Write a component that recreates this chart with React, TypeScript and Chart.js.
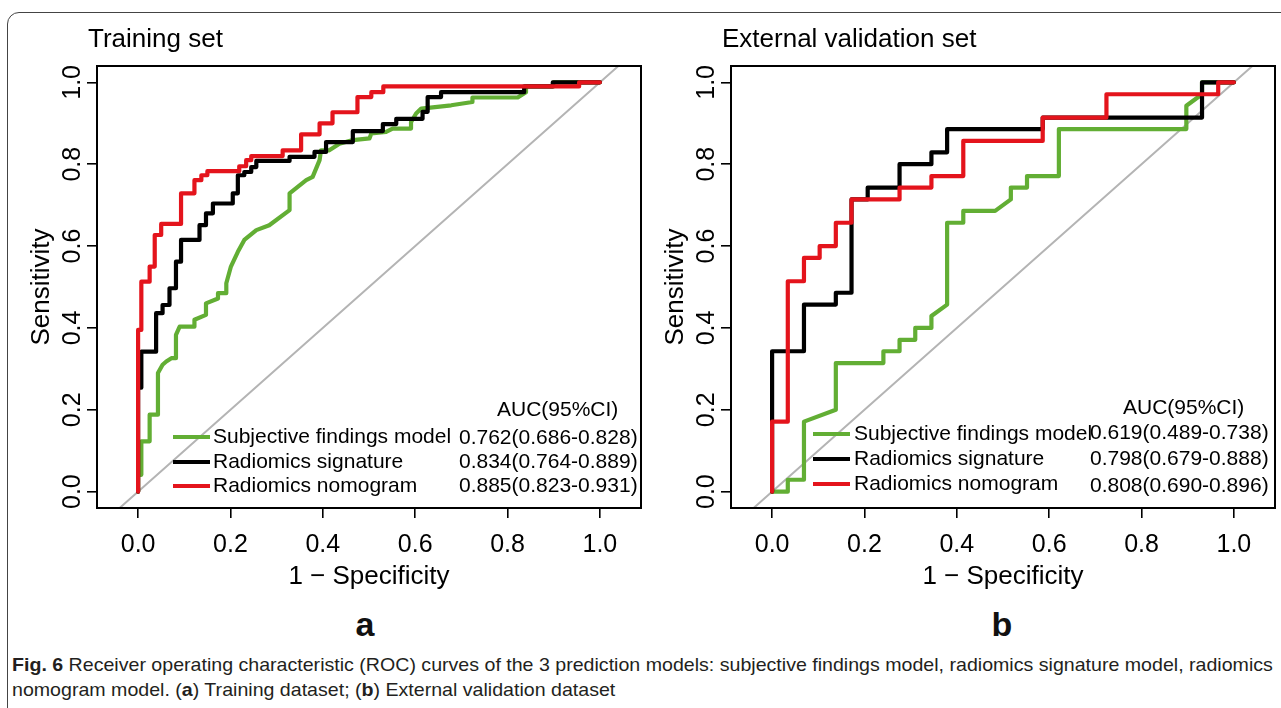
import React, { useEffect, useLayoutEffect, useRef } from "react";
import { Chart, registerables } from "chart.js";

Chart.register(...registerables);

const FONT = "'Liberation Sans', Arial, Helvetica, sans-serif";

// ---- data ----
const SERIES_NAMES = ["Subjective findings model", "Radiomics signature", "Radiomics nomogram"];
const SERIES_COLORS = ["#62ae34", "#000000", "#e4141c"];
const AXIS_TICKS = [0, 0.2, 0.4, 0.6, 0.8, 1.0];
const CHANCE_LINE: [number, number][] = [[-0.04, -0.04], [1.04, 1.04]];

const TRAINING_AUC = ["0.762(0.686-0.828)", "0.834(0.764-0.889)", "0.885(0.823-0.931)"];
const VALIDATION_AUC = ["0.619(0.489-0.738)", "0.798(0.679-0.888)", "0.808(0.690-0.896)"];

// [1 - specificity, sensitivity]
const TRAINING_SUBJECTIVE: [number, number][] = [
  [0, 0], [0, 0.041], [0.007, 0.041], [0.007, 0.123], [0.025, 0.123], [0.025, 0.188], [0.043, 0.188],
  [0.043, 0.29], [0.053, 0.31], [0.061, 0.318], [0.072, 0.326], [0.082, 0.326], [0.082, 0.383],
  [0.09, 0.403], [0.122, 0.403], [0.122, 0.42], [0.147, 0.432], [0.147, 0.46], [0.173, 0.472],
  [0.173, 0.485], [0.191, 0.485], [0.191, 0.509], [0.201, 0.55], [0.216, 0.586], [0.23, 0.615],
  [0.256, 0.639], [0.284, 0.651], [0.328, 0.688], [0.328, 0.729], [0.364, 0.761], [0.378, 0.769],
  [0.393, 0.81], [0.396, 0.834], [0.414, 0.834], [0.436, 0.85], [0.465, 0.859], [0.501, 0.863],
  [0.505, 0.875], [0.537, 0.879], [0.551, 0.887], [0.591, 0.887], [0.591, 0.903], [0.602, 0.924],
  [0.613, 0.936], [0.678, 0.944], [0.724, 0.952], [0.724, 0.963], [0.822, 0.963], [0.84, 0.976],
  [0.84, 0.99], [0.9, 0.99], [0.9, 1], [1, 1],
];
const TRAINING_SIGNATURE: [number, number][] = [
  [0, 0], [0, 0.254], [0.007, 0.254], [0.007, 0.342], [0.039, 0.342], [0.039, 0.436], [0.053, 0.436],
  [0.053, 0.456], [0.068, 0.456], [0.068, 0.497], [0.082, 0.497], [0.082, 0.562], [0.093, 0.562],
  [0.093, 0.615], [0.133, 0.615], [0.133, 0.651], [0.147, 0.651], [0.147, 0.68], [0.162, 0.68],
  [0.162, 0.704], [0.205, 0.704], [0.205, 0.729], [0.216, 0.729], [0.216, 0.773], [0.23, 0.773],
  [0.23, 0.781], [0.245, 0.781], [0.245, 0.793], [0.256, 0.793], [0.256, 0.808], [0.328, 0.808],
  [0.328, 0.818], [0.382, 0.818], [0.382, 0.83], [0.407, 0.83], [0.407, 0.854], [0.465, 0.854],
  [0.465, 0.881], [0.53, 0.881], [0.53, 0.898], [0.559, 0.898], [0.559, 0.911], [0.616, 0.911],
  [0.616, 0.928], [0.627, 0.928], [0.627, 0.964], [0.656, 0.964], [0.656, 0.976], [0.836, 0.976],
  [0.836, 0.99], [0.898, 0.99], [0.898, 1], [1, 1],
];
const TRAINING_NOMOGRAM: [number, number][] = [
  [0, 0], [0, 0.395], [0.007, 0.395], [0.007, 0.513], [0.025, 0.513], [0.025, 0.55], [0.036, 0.55],
  [0.036, 0.627], [0.05, 0.627], [0.05, 0.654], [0.093, 0.654], [0.093, 0.729], [0.122, 0.729],
  [0.122, 0.761], [0.137, 0.761], [0.137, 0.773], [0.15, 0.773], [0.15, 0.783], [0.219, 0.783],
  [0.219, 0.795], [0.234, 0.795], [0.234, 0.81], [0.245, 0.81], [0.245, 0.82], [0.313, 0.82],
  [0.313, 0.834], [0.353, 0.834], [0.353, 0.873], [0.393, 0.873], [0.393, 0.9], [0.421, 0.9],
  [0.421, 0.927], [0.475, 0.927], [0.475, 0.964], [0.505, 0.964], [0.505, 0.976], [0.531, 0.976],
  [0.531, 0.99], [0.955, 0.99], [0.955, 1], [1, 1],
];

const VALIDATION_SUBJECTIVE: [number, number][] = [
  [0, 0], [0.034, 0], [0.034, 0.029], [0.069, 0.029], [0.069, 0.171], [0.138, 0.2], [0.138, 0.314],
  [0.241, 0.314], [0.241, 0.343], [0.276, 0.343], [0.276, 0.371], [0.31, 0.371], [0.31, 0.4],
  [0.345, 0.4], [0.345, 0.429], [0.379, 0.457], [0.379, 0.657], [0.414, 0.657], [0.414, 0.686],
  [0.483, 0.686], [0.517, 0.714], [0.517, 0.743], [0.552, 0.743], [0.552, 0.771], [0.621, 0.771],
  [0.621, 0.886], [0.897, 0.886], [0.897, 0.943], [0.931, 0.971], [0.931, 1], [1, 1],
];
const VALIDATION_SIGNATURE: [number, number][] = [
  [0, 0], [0, 0.343], [0.069, 0.343], [0.069, 0.457], [0.138, 0.457], [0.138, 0.486], [0.172, 0.486],
  [0.172, 0.714], [0.207, 0.714], [0.207, 0.743], [0.276, 0.743], [0.276, 0.8], [0.345, 0.8],
  [0.345, 0.829], [0.379, 0.829], [0.379, 0.886], [0.586, 0.886], [0.586, 0.914], [0.931, 0.914],
  [0.931, 1], [1, 1],
];
const VALIDATION_NOMOGRAM: [number, number][] = [
  [0, 0], [0, 0.171], [0.034, 0.171], [0.034, 0.514], [0.069, 0.514], [0.069, 0.571], [0.103, 0.571],
  [0.103, 0.6], [0.138, 0.6], [0.138, 0.657], [0.172, 0.657], [0.172, 0.714], [0.276, 0.714],
  [0.276, 0.743], [0.345, 0.743], [0.345, 0.771], [0.414, 0.771], [0.414, 0.857], [0.586, 0.857],
  [0.586, 0.914], [0.724, 0.914], [0.724, 0.971], [0.966, 0.971], [0.966, 1], [1, 1],
];

type LegendLayout = {
  lineX1: number; lineX2: number; textX: number; rowsY: number[];
  headerX: number; headerY: number; valueX: number; valueRowsY: number[];
};

type PanelProps = {
  title: string;
  curves: [number, number][][];
  auc: string[];
  left: number;
  width: number;
  padRight: number;
  legend: LegendLayout;
};

const CANVAS_H = 600;

function Panel({ title, curves, auc, left, width, padRight, legend }: PanelProps) {
  const ref = useRef<HTMLCanvasElement | null>(null);
  useEffect(() => {
    if (!ref.current) return;
    const decor = {
      id: "decor",
      afterDraw(chart: any) {
        const { ctx, chartArea } = chart;
        ctx.save();
        ctx.strokeStyle = "#000";
        ctx.lineWidth = 2;
        ctx.strokeRect(chartArea.left, chartArea.top, chartArea.right - chartArea.left, chartArea.bottom - chartArea.top);
        ctx.fillStyle = "#000";
        ctx.font = `26px ${FONT}`;
        ctx.textAlign = "left";
        ctx.textBaseline = "alphabetic";
        ctx.fillText(title, chartArea.left - 9, 47);
        ctx.font = `21px ${FONT}`;
        ctx.textBaseline = "middle";
        SERIES_NAMES.forEach((name, i) => {
          const y = legend.rowsY[i];
          ctx.strokeStyle = SERIES_COLORS[i];
          ctx.lineWidth = 4;
          ctx.lineCap = "butt";
          ctx.beginPath();
          ctx.moveTo(legend.lineX1, y);
          ctx.lineTo(legend.lineX2, y);
          ctx.stroke();
          ctx.fillStyle = "#000";
          ctx.fillText(name, legend.textX, y);
          ctx.fillText(auc[i], legend.valueX, legend.valueRowsY[i]);
        });
        ctx.fillText("AUC(95%CI)", legend.headerX, legend.headerY);
        ctx.restore();
      },
    };
    const datasets: any[] = [
      {
        label: "chance",
        data: CHANCE_LINE.map(([x, y]) => ({ x, y })),
        borderColor: "#b4b4b4",
        borderWidth: 2,
        order: 3,
      },
      ...curves.map((c, i) => ({
        label: SERIES_NAMES[i],
        data: c.map(([x, y]) => ({ x, y })),
        borderColor: SERIES_COLORS[i],
        borderWidth: 4.2,
        order: 2 - i,
      })),
    ];
    const grid = { drawOnChartArea: false, drawTicks: true, tickLength: 10, color: "#000", lineWidth: 1.6 };
    const setTicks = (s: any) => {
      s.ticks = AXIS_TICKS.map((v) => ({ value: v }));
    };
    const chart = new Chart(ref.current, {
      type: "line",
      data: { datasets },
      options: {
        responsive: false,
        animation: false,
        devicePixelRatio: 1,
        elements: {
          point: { radius: 0 },
          line: { tension: 0, borderJoinStyle: "round", borderCapStyle: "round", fill: false },
        },
        layout: { padding: { top: 66, right: padRight, left: 0, bottom: 0 } },
        plugins: { legend: { display: false }, tooltip: { enabled: false }, title: { display: false } },
        scales: {
          x: {
            type: "linear",
            min: -0.089,
            max: 1.089,
            afterBuildTicks: setTicks,
            afterFit: (s: any) => {
              s.height = CANVAS_H - 508;
            },
            grid,
            border: { display: false },
            ticks: {
              color: "#000",
              font: { family: FONT, size: 25 },
              padding: 12,
              maxRotation: 0,
              minRotation: 0,
              callback: (v: any) => Number(v).toFixed(1),
            },
            title: {
              display: true,
              text: "1 \u2212 Specificity",
              color: "#000",
              font: { family: FONT, size: 26 },
              padding: { top: 0, bottom: 8 },
            },
          },
          y: {
            type: "linear",
            min: -0.04,
            max: 1.04,
            afterBuildTicks: setTicks,
            afterFit: (s: any) => {
              s.width = 97;
            },
            grid,
            border: { display: false },
            ticks: {
              color: "#000",
              font: { family: FONT, size: 25 },
              padding: -3,
              minRotation: 90,
              maxRotation: 90,
              crossAlign: "center",
              callback: (v: any) => Number(v).toFixed(1),
            },
            title: {
              display: true,
              text: "Sensitivity",
              color: "#000",
              font: { family: FONT, size: 26 },
              padding: { top: 26, bottom: 0 },
            },
          },
        },
      } as any,
      plugins: [decor],
    });
    return () => chart.destroy();
  }, []);
  return (
    <canvas
      ref={ref}
      width={width}
      height={CANVAS_H}
      style={{ position: "absolute", left, top: 0, width, height: CANVAS_H }}
    />
  );
}

const CAPTION_WIDTH = 1261;

function Caption() {
  const l1 = useRef<HTMLDivElement | null>(null);
  const l2 = useRef<HTMLDivElement | null>(null);
  useLayoutEffect(() => {
    if (!l1.current || !l2.current) return;
    const w = l1.current.scrollWidth;
    const k = w > 0 ? CAPTION_WIDTH / w : 1;
    l1.current.style.transform = `scaleX(${k})`;
    l2.current.style.transform = `scaleX(${k})`;
  }, []);
  const base: React.CSSProperties = {
    position: "absolute",
    left: 12,
    fontSize: 19,
    lineHeight: "24px",
    color: "#231f20",
    whiteSpace: "nowrap",
    display: "inline-block",
    transformOrigin: "0 0",
    fontFamily: FONT,
  };
  return (
    <>
      <div ref={l1} style={{ ...base, top: 653 }}>
        <b>Fig. 6</b> Receiver operating characteristic (ROC) curves of the 3 prediction models: subjective findings model, radiomics signature model, radiomics
      </div>
      <div ref={l2} style={{ ...base, top: 678 }}>
        nomogram model. (<b>a</b>) Training dataset; (<b>b</b>) External validation dataset
      </div>
    </>
  );
}

export default function App() {
  return (
    <div
      style={{
        position: "absolute",
        left: 0,
        top: 0,
        width: 1281,
        height: 708,
        overflow: "hidden",
        background: "#fff",
        fontFamily: FONT,
      }}
    >
      <div
        style={{
          position: "absolute",
          left: 7,
          top: 12,
          width: 1300,
          height: 720,
          border: "1.5px solid #444",
          borderTopLeftRadius: 12,
          boxSizing: "border-box",
        }}
      />
      <Panel
        title="Training set"
        curves={[TRAINING_SUBJECTIVE, TRAINING_SIGNATURE, TRAINING_NOMOGRAM]}
        auc={TRAINING_AUC}
        left={0}
        width={650}
        padRight={9}
        legend={{
          lineX1: 173, lineX2: 210, textX: 213, rowsY: [437, 462, 486],
          headerX: 497, headerY: 410, valueX: 459, valueRowsY: [438, 462, 486],
        }}
      />
      <Panel
        title="External validation set"
        curves={[VALIDATION_SUBJECTIVE, VALIDATION_SIGNATURE, VALIDATION_NOMOGRAM]}
        auc={VALIDATION_AUC}
        left={634}
        width={647}
        padRight={6}
        legend={{
          lineX1: 179, lineX2: 216, textX: 220, rowsY: [434, 459, 484],
          headerX: 489, headerY: 408, valueX: 456, valueRowsY: [433, 459, 486],
        }}
      />
      <div style={{ position: "absolute", left: 345, top: 600, width: 40, textAlign: "center", fontWeight: "bold", fontSize: 34, lineHeight: "48px", color: "#111" }}>a</div>
      <div style={{ position: "absolute", left: 982, top: 600, width: 40, textAlign: "center", fontWeight: "bold", fontSize: 34, lineHeight: "48px", color: "#111" }}>b</div>
      <Caption />
    </div>
  );
}
